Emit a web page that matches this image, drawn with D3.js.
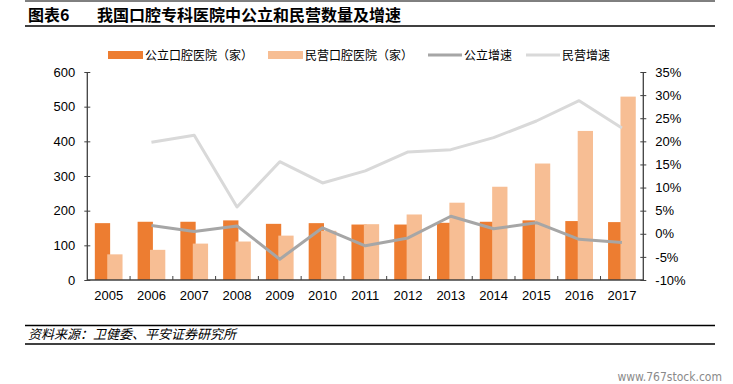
<!DOCTYPE html>
<html>
<head>
<meta charset="utf-8">
<script src="https://cdn.jsdelivr.net/npm/d3@7"></script>
<style>
  html, body { margin: 0; padding: 0; background: #fff; }
  svg { display: block; }
</style>
</head>
<body>
<svg id="chart" width="733" height="384"></svg>
<script>
const years = ['2005','2006','2007','2008','2009','2010','2011','2012','2013','2014','2015','2016','2017'];
const publicCount  = [164,168,168,172,162,164,160,160,165,168,172,170,167];
const privateCount = [74,87,105,111,128,142,161,189,223,269,336,430,529];
const publicGrowth  = [null,1.8,0.5,1.7,-5.5,1.3,-2.6,-0.9,3.8,1.1,2.4,-1.2,-1.9];
const privateGrowth = [null,19.8,21.3,5.8,15.6,11.0,13.6,17.7,18.2,20.8,24.4,28.8,22.9];
const leftTicks  = [0,100,200,300,400,500,600];
const rightTicks = [-10,-5,0,5,10,15,20,25,30,35];
const seriesNames = ['公立口腔医院（家）','民营口腔医院（家）','公立增速','民营增速'];
const titleLabel = '图表6';
const titleText = '我国口腔专科医院中公立和民营数量及增速';
const sourceText = '资料来源：卫健委、平安证券研究所';
const watermark = 'www.767stock.com';

const C_PUB = '#ED7D31', C_PRI = '#F7BE94', C_LPUB = '#A6A6A6', C_LPRI = '#D9D9D9';
const CJK = '"Noto Sans CJK SC","Noto Sans",sans-serif';
const NUM = '"Liberation Sans",Arial,sans-serif';

const svg = d3.select('#chart');
const L = 87.3, R = 643.3, T = 72, B = 280;

const x = d3.scaleBand().domain(years).range([L, R]).paddingInner(0).paddingOuter(0);
const yL = d3.scaleLinear().domain([0, 600]).range([B, T]);
const yR = d3.scaleLinear().domain([-10, 35]).range([B, T]);

// title block
svg.append('line').attr('x1', 25).attr('x2', 715).attr('y1', 1).attr('y2', 1)
  .attr('stroke', '#000').attr('stroke-width', 1);
svg.append('text').attr('x', 28).attr('y', 21).text(titleLabel)
  .attr('font-family', CJK).attr('font-weight', 700).attr('font-size', 16).attr('fill', '#000');
svg.append('text').attr('x', 97).attr('y', 21).text(titleText)
  .attr('font-family', CJK).attr('font-weight', 700).attr('font-size', 16).attr('fill', '#000');
svg.append('line').attr('x1', 25).attr('x2', 715).attr('y1', 26).attr('y2', 26)
  .attr('stroke', '#000').attr('stroke-width', 1.5);

// bars
const bw = 15.3, overlap = 2.9;
const groupW = bw * 2 - overlap;
const g = svg.append('g');
g.selectAll('rect.pub').data(years).enter().append('rect')
  .attr('x', (d) => x(d) + x.bandwidth() / 2 - groupW / 2)
  .attr('y', (d, i) => yL(publicCount[i]))
  .attr('width', bw)
  .attr('height', (d, i) => yL(0) - yL(publicCount[i]))
  .attr('fill', C_PUB);
g.selectAll('rect.pri').data(years).enter().append('rect')
  .attr('x', (d) => x(d) + x.bandwidth() / 2 - groupW / 2 + bw - overlap)
  .attr('y', (d, i) => yL(privateCount[i]))
  .attr('width', bw)
  .attr('height', (d, i) => yL(0) - yL(privateCount[i]))
  .attr('fill', C_PRI);

// lines
const mkLine = (arr) => d3.line()
  .defined((d, i) => arr[i] !== null)
  .x((d, i) => x(years[i]) + x.bandwidth() / 2)
  .y((d, i) => yR(arr[i]));
svg.append('path').datum(privateGrowth).attr('d', mkLine(privateGrowth))
  .attr('fill', 'none').attr('stroke', C_LPRI).attr('stroke-width', 3).attr('stroke-linejoin', 'round');
svg.append('path').datum(publicGrowth).attr('d', mkLine(publicGrowth))
  .attr('fill', 'none').attr('stroke', C_LPUB).attr('stroke-width', 3).attr('stroke-linejoin', 'round');

// axes
const axisColor = '#404040';
const gl = svg.append('g').attr('transform', `translate(${L},0)`)
  .call(d3.axisLeft(yL).tickValues(leftTicks).tickSize(3).tickPadding(9));
const gr = svg.append('g').attr('transform', `translate(${R},0)`)
  .call(d3.axisRight(yR).tickValues(rightTicks).tickSize(3).tickPadding(9).tickFormat(d => d + '%'));
const gb = svg.append('g').attr('transform', `translate(0,${B})`)
  .call(d3.axisBottom(x).tickSize(0).tickPadding(11));
[gl, gr, gb].forEach(a => {
  a.select('.domain').attr('stroke', axisColor).attr('stroke-width', 1.3);
  a.selectAll('.tick line').attr('stroke', axisColor);
  a.selectAll('text').attr('font-family', NUM).attr('font-size', 13).attr('fill', '#000');
});
gl.selectAll('.tick line').attr('x2', -3).attr('x1', 3);
gr.selectAll('.tick line').attr('x1', -3).attr('x2', 3);
gl.select('.domain').attr('d', `M0,${T}V${B}`);
gr.select('.domain').attr('d', `M0,${T}V${B}`);
gb.select('.domain').attr('d', `M${L},0H${R}`);
// category separators on x axis
gb.selectAll('line.sep').data(years.slice(1)).enter().append('line')
  .attr('x1', d => x(d)).attr('x2', d => x(d)).attr('y1', -4).attr('y2', 0)
  .attr('stroke', axisColor).attr('stroke-width', 1);

// legend
const leg = svg.append('g');
const legItems = [
  {sx: 108, tx: 145, type: 'rect', color: C_PUB},
  {sx: 268, tx: 305, type: 'rect', color: C_PRI},
  {sx: 428, tx: 464, type: 'line', color: C_LPUB},
  {sx: 526, tx: 562, type: 'line', color: C_LPRI}
];
legItems.forEach((it, i) => {
  if (it.type === 'rect') {
    leg.append('rect').attr('x', it.sx).attr('y', 51).attr('width', 35).attr('height', 8).attr('fill', it.color);
  } else {
    leg.append('line').attr('x1', it.sx).attr('x2', it.sx + 34).attr('y1', 55).attr('y2', 55)
      .attr('stroke', it.color).attr('stroke-width', 3);
  }
  leg.append('text').attr('x', it.tx).attr('y', 59.5).text(seriesNames[i])
    .attr('font-family', CJK).attr('font-size', 12).attr('fill', '#000');
});

// footer
svg.append('line').attr('x1', 25).attr('x2', 715).attr('y1', 325.5).attr('y2', 325.5)
  .attr('stroke', '#000').attr('stroke-width', 1.5);
svg.append('text').attr('x', 28).attr('y', 339).text(sourceText)
  .attr('font-family', CJK).attr('font-size', 13).attr('font-style', 'italic').attr('fill', '#000');
svg.append('line').attr('x1', 25).attr('x2', 715).attr('y1', 344).attr('y2', 344)
  .attr('stroke', '#000').attr('stroke-width', 1.5);
svg.append('text').attr('x', 722).attr('y', 381).attr('text-anchor', 'end').text(watermark)
  .attr('font-family', '"DejaVu Sans Condensed","Liberation Sans Narrow",sans-serif').attr('font-size', 12).attr('fill', '#8a8a8a');
</script>
</body>
</html>
